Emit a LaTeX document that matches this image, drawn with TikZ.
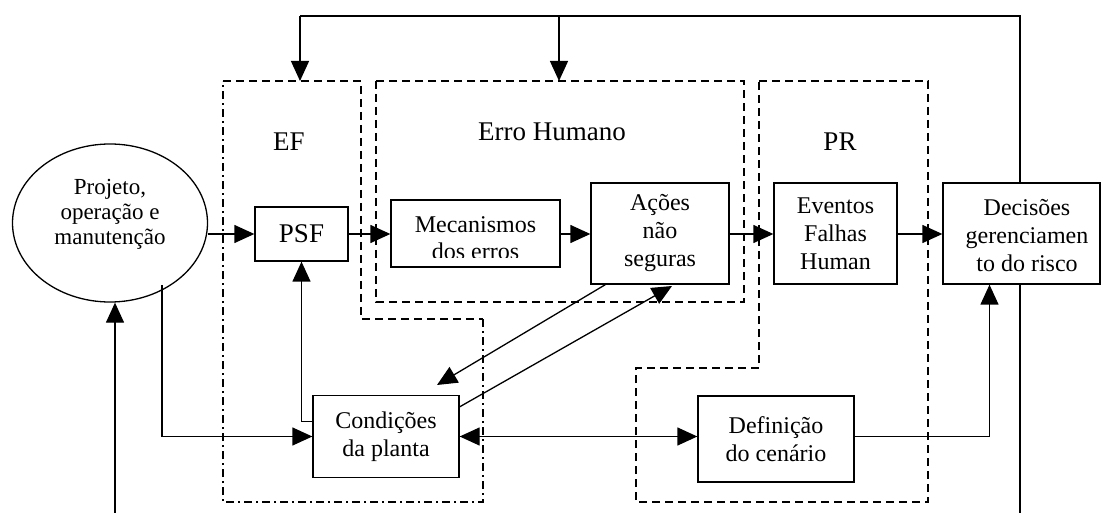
\documentclass[tikz,border=0pt]{standalone}
\usepackage{fontspec}
\setmainfont{Liberation Serif}
\usetikzlibrary{arrows.meta,shapes.geometric}
\begin{document}
\begin{tikzpicture}[x=1pt,y=-1pt,
  box/.style={draw, line width=1.3pt, inner sep=0pt, align=center, font=\fontsize{24}{28}\selectfont},
  txt/.style={inner sep=0pt, align=center, font=\fontsize{24}{28}\selectfont},
  arr/.style={line width=1.3pt, -{Triangle[length=20pt,width=18pt]}},
  dbl/.style={line width=1.3pt, {Triangle[length=20pt,width=18pt]}-{Triangle[length=20pt,width=18pt]}},
  conn/.style={line width=1.3pt},
  dsh/.style={line width=1.2pt, dash pattern=on 8pt off 5pt},
  dshdot/.style={line width=1.2pt, dash pattern=on 8pt off 4pt on 2pt off 4pt},
  lbl/.style={inner sep=0pt, font=\fontsize{27}{30}\selectfont}]
\useasboundingbox (0,0) rectangle (1101,513);

% regions
\draw[dsh] (223,81) -- (361,81) -- (361,319) -- (483,319);
\draw[dshdot] (483,319) -- (483,502) -- (223,502) -- (223,81);
\draw[dsh] (376,81) rectangle (744,302);
\draw[dsh] (759,81) -- (928,81) -- (928,502) -- (636,502) -- (636,368) -- (759,368) -- cycle;

\node[lbl] (lEF) at (289,142) {EF};
\node[lbl] (lEH) at (552,132) {Erro Humano};
\node[lbl] (lPR) at (840,142) {PR};

% nodes
\node[draw, ellipse, line width=1.3pt, minimum width=195pt, minimum height=158pt, inner sep=0pt] (ell) at (110,223) {};
\node[inner sep=0pt, align=center, font=\fontsize{23}{25}\selectfont] (ellT) at (110,214) {Projeto,\\operação e\\manutenção};

\node[box, minimum width=93pt, minimum height=54pt, font=\fontsize{27}{30}\selectfont] (PSF) at (301.5,234) {PSF};

\node[draw, line width=1.3pt, minimum width=169pt, minimum height=67pt, inner sep=0pt] (Mec) at (475.5,233.5) {};
\begin{scope}
\clip (391,200) rectangle (560,258);
\node[txt, anchor=base] (Mec1) at (475.5,233) {Mecanismos};
\node[txt, anchor=base] (Mec2) at (475.5,260) {dos erros};
\end{scope}

\node[box, minimum width=138pt, minimum height=101pt] (Acoes) at (660,233.5) {Ações\\não\\seguras};
\node[box, minimum width=123pt, minimum height=101pt] (Ev) at (835.5,233.5) {Eventos\\Falhas\\Human};
\node[draw, line width=1.3pt, minimum width=157pt, minimum height=101pt, inner sep=0pt] (Dec) at (1021.5,233.5) {};
\node[txt] (DecT) at (1027,236) {Decisões\\gerenciamen\\to do risco};
\node[box, minimum width=146pt, minimum height=82pt] (Cond) at (386,436.5) {Condições\\da planta};
\node[box, minimum width=156pt, minimum height=86pt] (Def) at (776,439) {Definição\\do cenário};

% coordinates
\coordinate (e1) at (162,285);
\coordinate (b1) at (115,513);
\coordinate (b2) at (1020,513);
\coordinate (topL) at (300,16);
\coordinate (EFtop) at (300,81);
\coordinate (EHtop) at (559,81);
\coordinate (ac) at (437,385);
\coordinate (ca) at (672,286);

% connectors
\draw[arr] (ell.east |- PSF.west) -- (PSF.west);
\draw[arr] (PSF.east) -- (PSF.east -| Mec.west);
\draw[arr] (Mec.east |- PSF.east) -- (PSF.east -| Acoes.west);
\draw[arr] (Acoes.east |- PSF.east) -- (PSF.east -| Ev.west);
\draw[arr] (Ev.east |- PSF.east) -- (PSF.east -| Dec.west);
\draw[arr] ([yshift=15pt]Cond.west) -| (PSF.south);
\draw[arr] (e1) |- (Cond.west);
\draw[arr] (b1) -- (b1 |- ell.south);
\draw[arr] ([xshift=15pt]Acoes.south west) -- (ac);
\draw[arr] ([yshift=-12pt]Cond.north east) -- (ca);
\draw[dbl] (Cond.east) -- (Cond.east -| Def.west);
\draw[arr] (Def.east |- Cond.east) -| ([xshift=-32pt]Dec.south);
\draw[conn] (Dec.north -| b2) -- (b2 |- topL) -- (topL);
\draw[arr] (topL) -- (EFtop);
\draw[arr] (EHtop |- topL) -- (EHtop);
\draw[conn] (Dec.south -| b2) -- (b2);
\end{tikzpicture}
\end{document}
